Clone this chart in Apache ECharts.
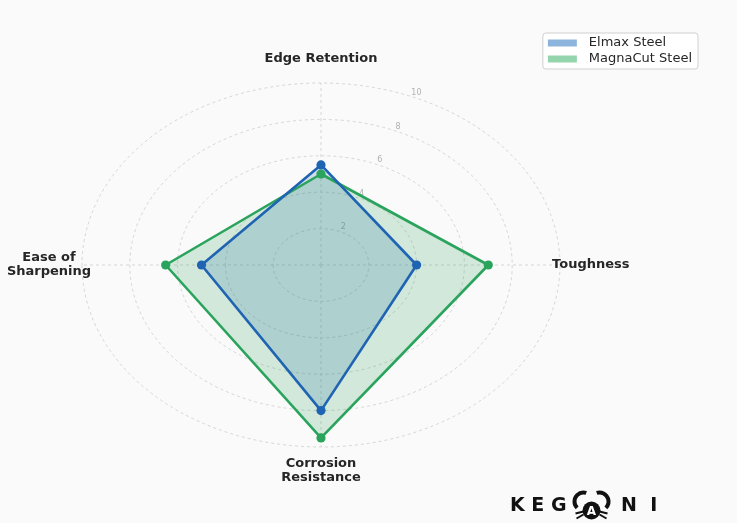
<!DOCTYPE html>
<html><head><meta charset="utf-8">
<script src="https://cdn.jsdelivr.net/npm/echarts@6/dist/echarts.min.js"></script>
<style>html,body{margin:0;padding:0;background:#fafafa}#c{width:737px;height:523px}</style>
</head><body><div id="c"></div>
<script>
// ---- data ----
const categories = ['Edge Retention', 'Toughness', 'Corrosion\nResistance', 'Ease of\nSharpening'];
const elmax = [5.5, 4, 8, 5];
const magnacut = [5, 7, 9.5, 6.5];
const ringTicks = [2, 4, 6, 8, 10];
const tickLabels = ['2', '4', '6', '8', '10'];
const seriesNames = ['Elmax Steel', 'MagnaCut Steel'];
const maxValue = 10;

// ---- styles ----
const FONT = 'DejaVu Sans';
const blueLine = '#1f64b2', blueFill = 'rgba(33,102,172,0.2)', blueLegend = '#8cb5dd';
const greenLine = '#2aa45c', greenFill = 'rgba(44,162,95,0.2)', greenLegend = '#95d5ad';
const gridColor = '#d6d6d6';

// category k sits k quarter-turns clockwise from the top
function polar(k, v) {
  const a = k * Math.PI / 2;
  return [v * Math.sin(a), v * Math.cos(a)];
}

// label anchor positions (data units) and alignment per category
const labelPos = [
  {p: [0, 11.35], align: 'center'},
  {p: [9.67, 0], align: 'left'},
  {p: [0, -11.3], align: 'center'},
  {p: [-11.38, 0], align: 'center'}
];

function gridRender(params, api) {
  const i = params.dataIndex;
  const r = api.value(0);
  const c = api.coord([0, 0]);
  const rx = api.coord([r, 0])[0] - c[0];
  const ry = c[1] - api.coord([0, r])[1];
  const children = [];
  const path = 'M' + (c[0] - rx) + ' ' + c[1] +
    ' A' + rx + ' ' + ry + ' 0 1 0 ' + (c[0] + rx) + ' ' + c[1] +
    ' A' + rx + ' ' + ry + ' 0 1 0 ' + (c[0] - rx) + ' ' + c[1] + ' Z';
  children.push({type: 'path', shape: {pathData: path},
    style: {fill: null, stroke: gridColor, lineWidth: 1, lineDash: [3, 3]}});
  if (i === 0) {
    categories.forEach((name, k) => {
      const e = api.coord(polar(k, maxValue));
      children.push({type: 'line', shape: {x1: c[0], y1: c[1], x2: e[0], y2: e[1]},
        style: {stroke: gridColor, lineWidth: 1, lineDash: [3, 3]}});
      const lp = api.coord(labelPos[k].p);
      children.push({type: 'text', x: lp[0], y: lp[1],
        style: {text: name, fill: '#262626', font: 'bold 13px "' + FONT + '"',
          align: labelPos[k].align, verticalAlign: 'middle', lineHeight: 14}});
    });
  }
  const a = 22.5 * Math.PI / 180;
  const tp = api.coord([r * Math.sin(a), r * Math.cos(a)]);
  children.push({type: 'text', x: tp[0] + 4, y: tp[1] - 4,
    style: {text: tickLabels[i], fill: '#b0b0b0', font: '8px "' + FONT + '"',
      align: 'center', verticalAlign: 'middle'}});
  return {type: 'group', children: children};
}

// layer: fills first (Elmax then MagnaCut), then outlines and markers on top
function steelRender(values, lineColor, fillColor, fillZ, lineZ) {
  return function (params, api) {
    const i = params.dataIndex;
    const children = [];
    if (i === 0) {
      const pts = values.map((v, k) => api.coord(polar(k, v)));
      children.push({type: 'polygon', z2: fillZ, shape: {points: pts},
        style: {fill: fillColor, stroke: null}});
      children.push({type: 'polygon', z2: lineZ, shape: {points: pts},
        style: {fill: null, stroke: lineColor, lineWidth: 2.6, lineJoin: 'round'}});
    }
    const p = api.coord(polar(api.value(0), api.value(1)));
    children.push({type: 'circle', z2: lineZ + 1, shape: {cx: p[0], cy: p[1], r: 4.6},
      style: {fill: lineColor}});
    return {type: 'group', children: children};
  };
}

const chart = echarts.init(document.getElementById('c'), null, {renderer: 'canvas'});
chart.setOption({
  backgroundColor: '#fafafa',
  animation: false,
  grid: {left: 34.2, width: 573.6, top: 46.6, height: 436.8},
  xAxis: {type: 'value', min: -12, max: 12, show: false},
  yAxis: {type: 'value', min: -12, max: 12, show: false},
  legend: {
    data: seriesNames,
    orient: 'vertical',
    right: 39, top: 33,
    backgroundColor: '#ffffff',
    borderColor: '#d0d0d0', borderWidth: 1, borderRadius: 3,
    padding: [3, 6, 3, 5],
    itemWidth: 29, itemHeight: 7, itemGap: 2,
    icon: 'rect',
    textStyle: {fontFamily: FONT, fontSize: 13, color: '#262626', padding: [0, 0, 0, 7], lineHeight: 14}
  },
  graphic: [
    {type: 'text', left: 510, top: 497,
      style: {text: 'K E G', fill: '#111', font: 'bold 19px "' + FONT + '"'}},
    {type: 'group', left: 572, top: 490, children: [
      {type: 'arc', shape: {cx: 12, cy: 12, r: 9, startAngle: Math.PI * 0.75, endAngle: Math.PI * 1.6}, style: {stroke: '#111', lineWidth: 4, fill: null}},
      {type: 'arc', shape: {cx: 28, cy: 12, r: 9, startAngle: Math.PI * 1.4, endAngle: Math.PI * 2.25}, style: {stroke: '#111', lineWidth: 4, fill: null}},
      {type: 'circle', shape: {cx: 20, cy: 21, r: 9}, style: {fill: '#111'}},
      {type: 'line', shape: {x1: 4, y1: 24, x2: 12, y2: 22}, style: {stroke: '#111', lineWidth: 2}},
      {type: 'line', shape: {x1: 5, y1: 29, x2: 12, y2: 25}, style: {stroke: '#111', lineWidth: 2}},
      {type: 'line', shape: {x1: 36, y1: 24, x2: 28, y2: 22}, style: {stroke: '#111', lineWidth: 2}},
      {type: 'line', shape: {x1: 35, y1: 29, x2: 28, y2: 25}, style: {stroke: '#111', lineWidth: 2}},
      {type: 'text', x: 20, y: 22, style: {text: 'A', fill: '#fff', font: 'bold 12px "' + FONT + '"', align: 'center', verticalAlign: 'middle'}}
    ]},
    {type: 'text', left: 621, top: 497,
      style: {text: 'N  I', fill: '#111', font: 'bold 19px "' + FONT + '"'}}
  ],
  series: [
    {type: 'custom', name: 'grid', silent: true, z: 1,
      data: ringTicks.map(v => [v]), renderItem: gridRender},
    {type: 'custom', name: seriesNames[0], z: 2, itemStyle: {color: blueLegend},
      data: elmax.map((v, k) => [k, v]), renderItem: steelRender(elmax, blueLine, blueFill, 1, 12)},
    {type: 'custom', name: seriesNames[1], z: 2, itemStyle: {color: greenLegend},
      data: magnacut.map((v, k) => [k, v]), renderItem: steelRender(magnacut, greenLine, greenFill, 2, 10)}
  ]
});
</script>
</body></html>
